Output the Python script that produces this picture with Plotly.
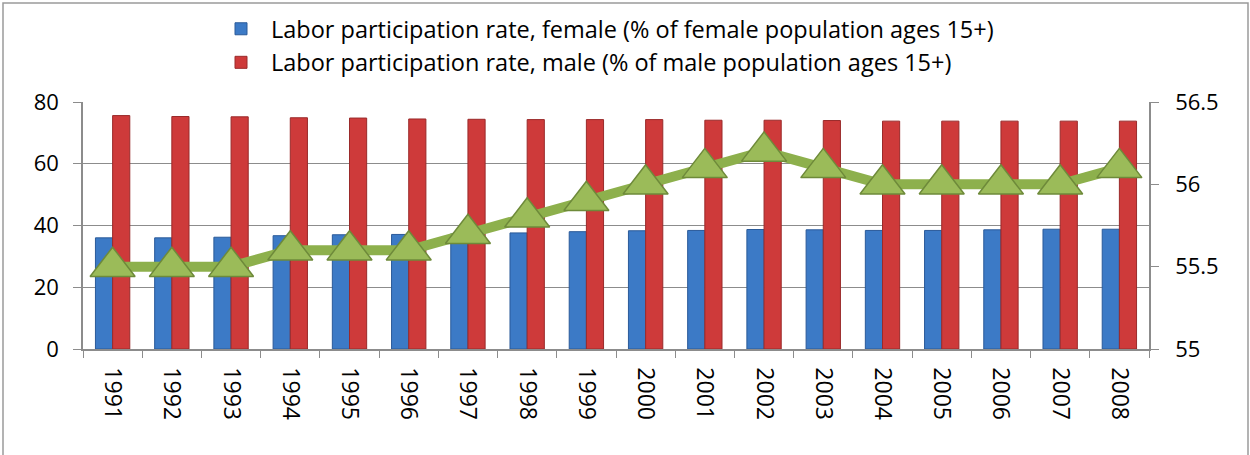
import plotly.graph_objects as go

years = [str(y) for y in range(1991, 2009)]
female = [36.0, 36.0, 36.2, 36.7, 37.0, 37.1, 37.3, 37.6, 38.0, 38.3, 38.4, 38.7, 38.6, 38.4, 38.4, 38.6, 38.8, 38.8]
male = [75.6, 75.3, 75.2, 74.9, 74.8, 74.5, 74.4, 74.3, 74.3, 74.3, 74.1, 74.1, 74.0, 73.8, 73.8, 73.8, 73.8, 73.8]
line_vals = [55.5, 55.5, 55.5, 55.6, 55.6, 55.6, 55.7, 55.8, 55.9, 56.0, 56.1, 56.2, 56.1, 56.0, 56.0, 56.0, 56.0, 56.1]

name_f = "Labor participation rate, female (% of female population ages 15+)"
name_m = "Labor participation rate, male (% of male population ages 15+)"

W, H = 1250, 455
L, R, T, B = 83, 1149, 102, 349

fig = go.Figure()
fig.add_trace(go.Bar(x=years, y=female, name=name_f,
                     marker=dict(color="#3C7AC6", line=dict(color="#2A5A99", width=1))))
fig.add_trace(go.Bar(x=years, y=male, name=name_m,
                     marker=dict(color="#CE3A3A", line=dict(color="#9A2A2A", width=1))))
fig.add_trace(go.Scatter(x=years, y=line_vals, yaxis="y2", mode="lines+markers",
                         showlegend=False, cliponaxis=False,
                         line=dict(color="#8DB04C", width=10),
                         marker=dict(symbol="triangle-up", size=39, color="#9BBB59",
                                     line=dict(color="#6E8A3A", width=1.5))))

grid = "#8C8C8C"
fig.update_layout(
    width=W, height=H,
    margin=dict(l=L, r=W - R, t=T, b=H - B, autoexpand=False),
    paper_bgcolor="white", plot_bgcolor="white",
    font=dict(family="Open Sans", size=20, color="black"),
    barmode="group", bargap=0.42, bargroupgap=0,
    showlegend=True,
    legend=dict(x=(211 - L) / (R - L), xanchor="left", yref="container", y=1 - 7 / H, yanchor="top",
                font=dict(size=23.5, family="Open Sans"), bgcolor="rgba(0,0,0,0)",
                tracegroupgap=0, itemwidth=50),
    xaxis=dict(type="category", range=[-0.5, 17.5], autorange=False, automargin=False,
               tickangle=90, showline=True, linecolor=grid, linewidth=1.5,
               ticks="outside", tickson="boundaries", ticklen=7, tickcolor=grid,
               ticklabelstandoff=12,
               tickfont=dict(size=23), showgrid=False, mirror=False),
    yaxis=dict(range=[0, 80], automargin=False, tickvals=[0, 20, 40, 60, 80], showgrid=True, gridcolor=grid,
               gridwidth=1.2, showline=True, linecolor=grid, linewidth=1.5,
               ticks="outside", ticklen=8, tickcolor=grid, ticklabelstandoff=10,
               tickfont=dict(size=22), zeroline=False),
    yaxis2=dict(range=[55, 56.5], automargin=False, tickvals=[55, 55.5, 56, 56.5],
                ticktext=["55", "55.5", "56", "56.5"],
                overlaying="y", side="right", showgrid=False, showline=True, linecolor=grid,
                linewidth=1.5, ticks="outside", ticklen=8, tickcolor=grid, ticklabelstandoff=12,
                tickfont=dict(size=22), zeroline=False),
)

# outer chart border
fig.add_shape(type="rect", xref="paper", yref="paper",
              x0=(3 - L) / (R - L), x1=(1248 - L) / (R - L),
              y0=(B - 470) / (B - T), y1=(B - 3) / (B - T),
              line=dict(color="#9A9A9A", width=1.5), fillcolor="rgba(0,0,0,0)", layer="below")

fig.write_html("out.html", config={"displayModeBar": False},
               post_script="document.body.style.margin='0';")
